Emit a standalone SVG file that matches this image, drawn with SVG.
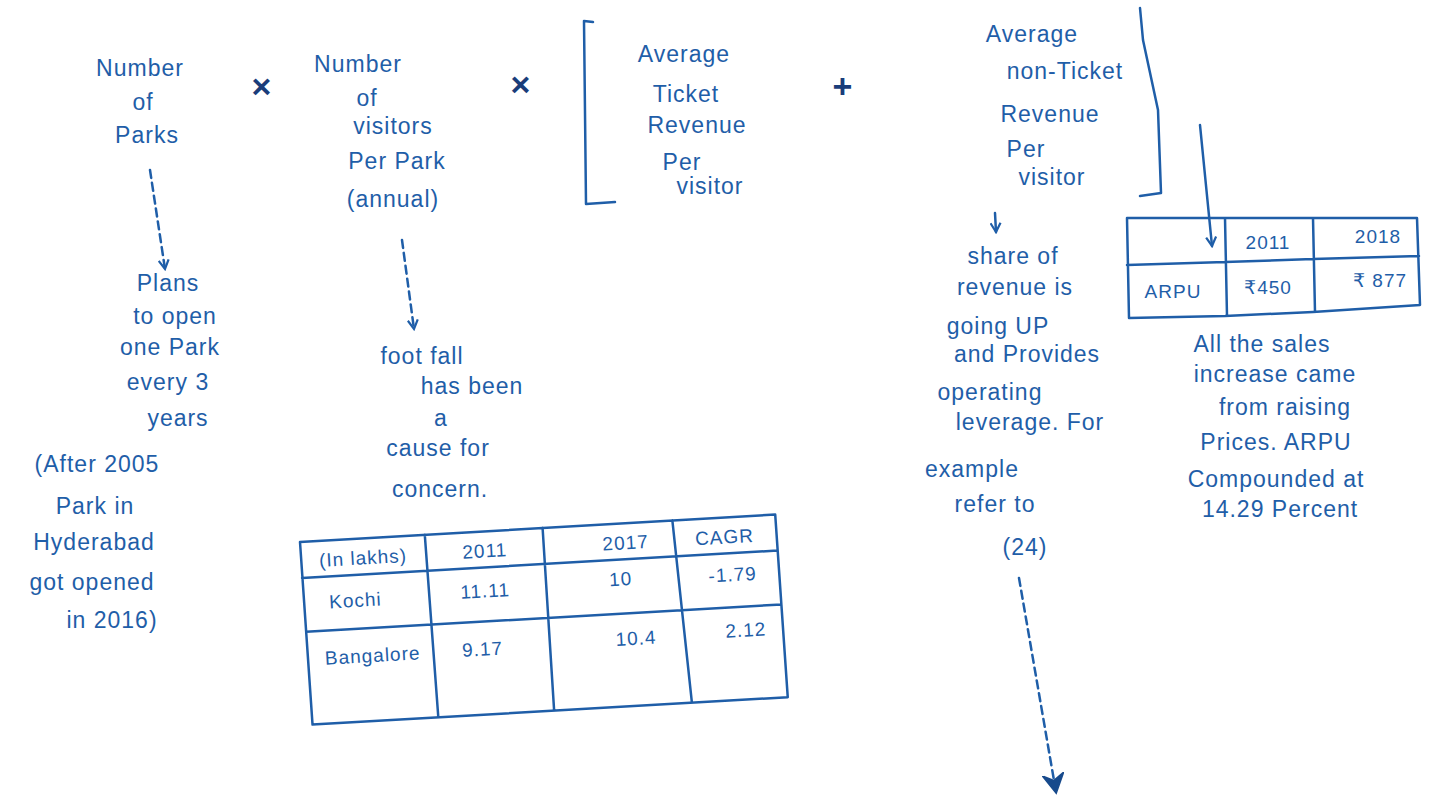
<svg xmlns="http://www.w3.org/2000/svg" width="1437" height="803" viewBox="0 0 1437 803">
<defs>
<style>
text{font-family:"Liberation Sans","DejaVu Sans","Noto Sans",sans-serif;fill:#1f5ea8;font-size:23px;letter-spacing:1px;text-anchor:middle}
.s{font-size:19px}
.ln{stroke:#1f5ea8;stroke-width:2.5;fill:none;stroke-linecap:round;stroke-linejoin:round}
.dot{stroke:#1f5ea8;stroke-width:2.5;fill:none;stroke-dasharray:8 5;stroke-linecap:round}
.op{fill:#1a3d7a;font-size:34px;font-weight:bold}
</style>
<marker id="v" viewBox="0 0 12 12" refX="10" refY="6" markerWidth="12" markerHeight="12" markerUnits="userSpaceOnUse" orient="auto">
<path d="M1,1 L10,6 L1,11" fill="none" stroke="#1f5ea8" stroke-width="2.2"/>
</marker>
<marker id="vb" viewBox="0 0 12 12" refX="10" refY="6" markerWidth="22" markerHeight="22" markerUnits="userSpaceOnUse" orient="auto">
<path d="M1,1 L10,6 L1,11 L4,6 Z" fill="#174a8c" stroke="#174a8c" stroke-width="1.5"/>
</marker>
</defs>
<rect width="1437" height="803" fill="#ffffff"/>

<g id="parks">
<text x="140" y="76">Number</text>
<text x="143" y="110">of</text>
<text x="147" y="143">Parks</text>
</g>
<text class="op" x="262" y="98">×</text>

<g id="visitors">
<text x="358" y="72">Number</text>
<text x="367" y="106">of</text>
<text x="393" y="134">visitors</text>
<text x="397" y="169">Per Park</text>
<text x="393" y="207">(annual)</text>
</g>
<text class="op" x="521" y="96">×</text>

<g id="ticket">
<path class="ln" d="M593,22 L584,21 L586,204 L615,202"/>
<text x="684" y="62">Average</text>
<text x="686" y="102">Ticket</text>
<text x="697" y="133">Revenue</text>
<text x="682" y="170">Per</text>
<text x="710" y="194">visitor</text>
</g>
<text class="op" x="843" y="98">+</text>

<g id="nonticket">
<path class="ln" d="M1140,8 L1143,40 L1158,110 L1161,193 L1140,196"/>
<text x="1032" y="42">Average</text>
<text x="1065" y="79">non-Ticket</text>
<text x="1050" y="122">Revenue</text>
<text x="1026" y="157">Per</text>
<text x="1052" y="185">visitor</text>
</g>

<g id="plans">
<text x="168" y="291">Plans</text>
<text x="175" y="324">to open</text>
<text x="170" y="355">one Park</text>
<text x="168" y="390">every 3</text>
<text x="178" y="426">years</text>
</g>

<g id="hyderabad">
<text x="97" y="472">(After 2005</text>
<text x="95" y="514">Park in</text>
<text x="94" y="550">Hyderabad</text>
<text x="92" y="590">got opened</text>
<text x="112" y="628">in 2016)</text>
</g>

<g id="footfall">
<text x="422" y="364">foot fall</text>
<text x="472" y="394">has been</text>
<text x="441" y="426">a</text>
<text x="438" y="456">cause for</text>
<text x="440" y="497">concern.</text>
</g>

<g id="table1" transform="translate(300,542) rotate(-3.3)">
<path class="ln" d="M0,0 L476,0 L478,183 L2,183 Z M0,36 L476,36 M1,90 L477,90 M125,0 L128,183 M243,0 L244,183 M373,0 L382,183"/>
<text class="s" x="62" y="26">(In lakhs)</text>
<text class="s" x="184" y="26">2011</text>
<text class="s" x="325" y="26">2017</text>
<text class="s" x="424" y="26">CAGR</text>
<text class="s" x="52" y="68">Kochi</text>
<text class="s" x="182" y="66">11.11</text>
<text class="s" x="318" y="62">10</text>
<text class="s" x="430" y="64">-1.79</text>
<text class="s" x="66" y="124">Bangalore</text>
<text class="s" x="176" y="124">9.17</text>
<text class="s" x="330" y="122">10.4</text>
<text class="s" x="440" y="120">2.12</text>
</g>

<g id="share">
<text x="1013" y="264">share of</text>
<text x="1015" y="295">revenue is</text>
<text x="998" y="334">going UP</text>
<text x="1027" y="362">and Provides</text>
<text x="990" y="400">operating</text>
<text x="1030" y="430">leverage. For</text>
<text x="972" y="477">example</text>
<text x="995" y="512">refer to</text>
<text x="1025" y="555">(24)</text>
</g>

<g id="table2">
<path class="ln" d="M1127,218 L1417,218 L1420,305 L1313,312 L1225,316 L1129,318 Z M1127,265 L1225,262 L1313,259 L1419,256 M1225,218 L1227,316 M1313,218 L1315,312"/>
<text class="s" x="1268" y="249">2011</text>
<text class="s" x="1378" y="243">2018</text>
<text class="s" x="1173" y="298">ARPU</text>
<text class="s" x="1268" y="294">₹450</text>
<text class="s" x="1380" y="287">₹ 877</text>
</g>

<g id="sales">
<text x="1262" y="352">All the sales</text>
<text x="1275" y="382">increase came</text>
<text x="1285" y="415">from raising</text>
<text x="1276" y="450">Prices. ARPU</text>
<text x="1276" y="487">Compounded at</text>
<text x="1280" y="517">14.29 Percent</text>
</g>

<g id="connectors">
<line class="dot" x1="150" y1="170" x2="165" y2="269" marker-end="url(#v)"/>
<line class="dot" x1="402" y1="240" x2="414" y2="329" marker-end="url(#v)"/>
<line class="ln" x1="995" y1="213" x2="996" y2="232" marker-end="url(#v)"/>
<line class="ln" x1="1200" y1="125" x2="1212" y2="246" marker-end="url(#v)"/>
<line class="dot" x1="1019" y1="578" x2="1056" y2="792" marker-end="url(#vb)"/>
</g>
</svg>
